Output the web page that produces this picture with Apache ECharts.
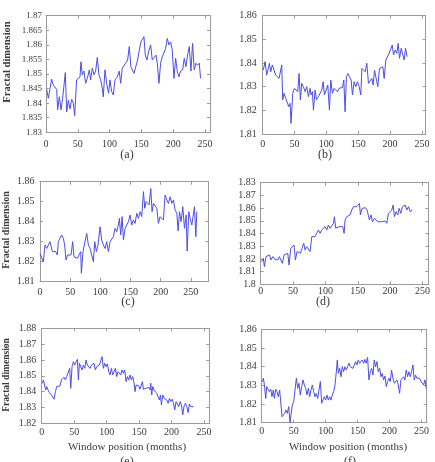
<!DOCTYPE html>
<html>
<head>
    <meta charset="utf-8">
    <title>Fractal dimension</title>
    <script src="https://cdn.jsdelivr.net/npm/echarts@6/dist/echarts.min.js"></script>
    <style>
        body { margin: 0; background: #fff; }
    </style>
</head>
<body>
    <div id="main" style="width: 435px;height:462px;"></div>
    <script type="text/javascript">
        // window position (months) and fractal dimension
        var aX = [1,3.7,6.3,8.9,11.5,14.2,16.8,18.3,21,23.6,26.2,28.3,30.4,32.5,35.1,37.7,40.4,43,45.1,48.2,50.8,53.5,55,57.1,59.7,62.4,65,68.1,70.2,72.9,75.5,78.1,80.7,83.3,86,88.6,90.1,92.8,95.4,98.5,100.6,103.3,105.9,108.5,112.2,115.3,117.4,120,122.6,125.3,128.4,131,133.6,136.3,138.4,141.5,144.1,146.8,149.4,152,154.1,156.2,158.8,162,164.6,167.2,169.8,173,175.1,177.7,180.3,182.9,185.5,188.2,190.8,193.4,196,198.6,201.3,203.9,206.5,209.1,211.7,214.9,217.5,220.1,222.7,225.4,228,230.6,233.2,235.8,238.5,241.1,243.2];
        var aY = [1.8447,1.8417,1.845,1.8482,1.8462,1.8459,1.8447,1.8377,1.8422,1.8377,1.8417,1.8422,1.8505,1.837,1.841,1.838,1.8413,1.84,1.8357,1.848,1.8485,1.849,1.8542,1.8497,1.851,1.8468,1.8485,1.8514,1.848,1.852,1.8497,1.851,1.8557,1.8497,1.848,1.8451,1.8422,1.8514,1.8468,1.8434,1.848,1.844,1.8428,1.848,1.849,1.851,1.8468,1.852,1.8514,1.8537,1.8548,1.8594,1.8525,1.8525,1.8502,1.8497,1.8548,1.8582,1.861,1.8605,1.8628,1.8565,1.8548,1.8582,1.86,1.8548,1.8542,1.8565,1.8537,1.8468,1.8537,1.8559,1.8554,1.8588,1.8622,1.86,1.861,1.8582,1.8485,1.8554,1.851,1.849,1.851,1.8514,1.8554,1.8525,1.8565,1.8594,1.851,1.8605,1.8514,1.8537,1.853,1.8537,1.8485];

        var bX = [1,3.7,6.3,8.9,10.5,12.6,15.2,17.8,20.4,23.1,25.7,28.3,29.9,31.4,33.5,36.2,38.8,40.9,43,44.5,47.2,49.8,52.4,55,57.1,59.2,61.3,63.9,66.6,69.2,71.8,74.4,76,78.1,79.7,82.3,84.4,87.5,90.1,92.8,94.9,97,99.6,102.2,104.8,106.9,109.5,112.2,114.8,117.4,120,122.6,125.3,127.4,129.4,131.5,133.6,136.3,138.9,141,143.6,146.2,148.8,151.5,154.1,155.7,158.3,160.9,163.5,166.1,168.8,171.4,173.5,175.6,178.2,180.8,183.4,186.1,188.7,190.8,193.4,196,198.6,201.3,203.4,205.5,208.1,210.7,212.8,214.9,217.5,220.1,222.2,224.3,226.9];
        var bY = [1.837,1.8406,1.8349,1.8377,1.8399,1.8363,1.8392,1.8399,1.8349,1.8349,1.8335,1.8342,1.8392,1.8244,1.8272,1.8251,1.8258,1.8215,1.823,1.8145,1.8272,1.8293,1.8297,1.8279,1.8356,1.8244,1.8314,1.83,1.8279,1.83,1.8258,1.8293,1.8265,1.8279,1.8201,1.8286,1.8244,1.8258,1.8265,1.8286,1.8321,1.8265,1.8286,1.8307,1.8201,1.8328,1.8272,1.8293,1.8286,1.8279,1.8293,1.8286,1.8297,1.8328,1.8194,1.8342,1.8356,1.8349,1.8328,1.8265,1.8321,1.83,1.8321,1.83,1.8265,1.8377,1.8384,1.8363,1.8399,1.8314,1.8321,1.8335,1.8307,1.837,1.8363,1.83,1.8377,1.8377,1.8384,1.8335,1.8413,1.842,1.8441,1.8441,1.8476,1.8434,1.8455,1.8441,1.8483,1.842,1.8462,1.8455,1.8413,1.8462,1.8427];

        var cX = [0,2.8,5.5,8.3,11.1,13.8,16.6,18.3,20.5,23.2,26,28.8,30.4,33.2,35.9,38.7,40.9,43.1,45.9,48.7,51.4,54.2,56.4,59.2,61.9,64.7,67.5,68.6,71.3,74.1,77.4,80.2,83,85.2,88.5,90.7,93.5,96.2,99.6,102.3,105.1,107.9,110.6,113.4,116.2,118.9,121.7,124.4,127.2,130,131.6,133.8,136.1,138.3,141,143.8,146.6,149.3,152.1,154.9,157.6,160.4,163.2,165.9,168.7,171.5,173.7,175.9,178.7,180.9,183.6,185.8,188.1,190.8,193.6,196.3,199.1,202.4,204.6,207.4,210.2,212.9,215.7,218.5,221.2,224,226.8,229,231.2,234,236.7,239.5,242.3,243.9,246.7,248.9,251.7,254.4,256.1,258.3,260];
        var cY = [1.8239,1.8231,1.8197,1.8281,1.8264,1.8281,1.8298,1.8306,1.8248,1.8239,1.8248,1.8231,1.8298,1.8306,1.8332,1.8315,1.8281,1.8206,1.8231,1.8222,1.8231,1.8298,1.8222,1.8222,1.8214,1.8214,1.8248,1.8139,1.8248,1.8256,1.834,1.8281,1.8264,1.8256,1.8197,1.8298,1.8248,1.8281,1.8373,1.8306,1.8281,1.8264,1.8298,1.8248,1.8298,1.8306,1.8323,1.8365,1.8348,1.8382,1.8415,1.8332,1.8424,1.8306,1.8365,1.8373,1.8399,1.8432,1.8382,1.8407,1.839,1.8441,1.8415,1.8449,1.8424,1.855,1.8466,1.85,1.8508,1.8483,1.8566,1.8449,1.8491,1.85,1.8466,1.839,1.8424,1.8432,1.8407,1.8533,1.8508,1.8491,1.8524,1.8491,1.8508,1.8457,1.8441,1.8352,1.8449,1.8399,1.8474,1.8365,1.8432,1.8251,1.8449,1.8415,1.8382,1.8382,1.8474,1.8323,1.8449];

        var dX = [1.5,4.1,5.7,8.2,10.8,13.4,16,18.6,21.1,23.7,26.3,28.9,31.4,33.5,36.1,38.7,41.8,43.8,46.4,49,51.5,53.6,56.2,58.8,61.3,63.9,66.5,68.6,71.1,73.7,76.3,78.9,81.4,84,86.6,89.2,91.8,94.3,96.9,99.5,102.1,104.6,107.2,109.8,112.4,113.9,116,118.6,121.1,123.7,126.8,128.9,130.4,133,135.6,138.1,140.7,143.3,145.9,148.5,151,152.6,154.1,156.7,159.3,161.9,164.4,166.5,168,170.6,172.7,175.8,178.4,180.9,183.5,187.1,189.7,192.3,194.8,197.4,200,202.6,204.6,206.7,209.3,211.9,213.9,216.5,219.1,221.1,223.2,225.8,228.4,230.9,234.5];
        var dY = [1.8178,1.8205,1.8139,1.8218,1.8231,1.8231,1.8191,1.8218,1.82,1.8205,1.8191,1.8218,1.8205,1.8165,1.8231,1.8218,1.8244,1.8152,1.8283,1.8296,1.831,1.8191,1.8257,1.827,1.8244,1.8283,1.8323,1.827,1.8296,1.831,1.8257,1.8375,1.8362,1.8375,1.8388,1.8428,1.8401,1.8428,1.8414,1.8454,1.8428,1.8467,1.8441,1.8454,1.848,1.8532,1.8441,1.8441,1.8454,1.8441,1.8454,1.8401,1.8506,1.8532,1.8532,1.8546,1.8585,1.8611,1.8598,1.8611,1.8624,1.8637,1.8546,1.8598,1.8598,1.8603,1.8585,1.8572,1.8506,1.8546,1.8493,1.8519,1.8532,1.8493,1.848,1.8493,1.8506,1.8498,1.848,1.8559,1.8572,1.8585,1.8624,1.8532,1.8572,1.8546,1.8598,1.8559,1.8611,1.8598,1.8624,1.8585,1.8611,1.8572,1.8585];

        var eX = [1,2.6,4.6,6.2,7.7,9.8,11.8,13.9,15.9,18,19,21.1,23.1,25.7,28.2,30.3,32.3,34.4,36.4,38.5,41.1,43.1,44.7,46.7,48.8,50.8,52.9,54.9,56.5,58,60.1,62.1,64.2,66.2,68.3,70.3,72.4,74.4,76.5,78.5,80.6,82.6,84.7,86.8,88.8,90.9,92.9,95,97,99.1,101.1,103.2,105.2,107.3,109.3,111.4,113.4,115.5,117.6,119.6,121.7,123.7,125.8,127.8,129.9,131.9,134,136,138.1,140.1,142.2,143.7,145.3,147.3,149.4,151.4,153.5,155,156.6,158.6,160.7,162.7,164.8,166.8,167.9,169.4,170.9,173,175.1,177.1,179.2,181.2,182.8,184.3,186.3,188.4,190.5,192.5,194.6,196.6,198.7,200.7,202.8,204.8,206.9,208.9,211,213,215.1,217.1,219.2,221.3,223.3,225.4,227.4,229.5,231.5,233.6];
        var eY = [1.8453,1.8474,1.8463,1.841,1.8432,1.841,1.8394,1.8385,1.8373,1.8368,1.8352,1.84,1.8432,1.8421,1.8436,1.8474,1.8463,1.8491,1.8474,1.8495,1.8505,1.8547,1.8421,1.8558,1.8589,1.8568,1.8579,1.8604,1.8474,1.8579,1.8568,1.8537,1.8568,1.8547,1.86,1.8568,1.8579,1.8547,1.8568,1.8562,1.8579,1.8537,1.8558,1.8547,1.8568,1.8579,1.8621,1.8547,1.8579,1.8558,1.8575,1.8526,1.8505,1.8547,1.8505,1.8526,1.8547,1.8495,1.8526,1.8537,1.8505,1.8537,1.8516,1.8537,1.8463,1.8495,1.8474,1.8505,1.8474,1.8495,1.8453,1.84,1.8442,1.8432,1.8436,1.8415,1.8442,1.8463,1.8415,1.8427,1.8421,1.8432,1.8427,1.841,1.8453,1.8379,1.8432,1.841,1.8421,1.8389,1.8379,1.8347,1.8379,1.8316,1.8379,1.8358,1.8368,1.8347,1.8326,1.8358,1.8337,1.8352,1.8331,1.8284,1.8337,1.8326,1.8305,1.8337,1.8316,1.8253,1.831,1.8326,1.8305,1.8267,1.8322,1.8305,1.8316,1.8305];

        var fX = [1,2.6,4.2,6.3,7.8,9.9,12,14.1,16.1,18.2,19.8,21.9,24,26,28.1,30.2,31.8,33.9,35.9,38,40.1,42.2,44.3,45.8,47.9,50,52.1,54.2,56.3,58.3,60.4,62.5,64.6,66.7,68.8,70.8,72.9,75,77.1,79.2,81.3,83.3,85.4,87.5,89.6,91.7,93.8,95.8,97.9,100,102.1,104.2,106.3,108.3,110.4,112.5,114.6,116.7,118.2,119.8,121.9,124,126,128.1,130.2,132.3,134.4,136.5,138.5,140.6,142.7,144.8,146.9,149,151,153.1,155.2,157.3,159.4,161.5,163.5,165.6,167.7,169.8,171.9,174,176,178.1,180.2,182.3,184.4,186.5,188.5,190.6,192.7,194.8,196.9,199,201,203.1,205.2,207.3,209.4,211.5,213.5,215.6,217.7,219.8,221.9,224,226,228.1,230.2,232.3,234.4,236.5,238.5,240.6,242.7,244.8,246.9,249,251,253.1,255.2,257.3];
        var fY = [1.832,1.8338,1.8302,1.823,1.8293,1.8284,1.8266,1.8279,1.8239,1.8275,1.823,1.8279,1.8266,1.8239,1.8275,1.8284,1.8132,1.8141,1.815,1.8168,1.815,1.8186,1.81,1.81,1.8195,1.8213,1.8275,1.8338,1.8284,1.8311,1.8248,1.8293,1.8329,1.8302,1.8284,1.8248,1.8284,1.8239,1.8275,1.8302,1.8266,1.8239,1.8257,1.823,1.8275,1.832,1.8204,1.8221,1.8239,1.8221,1.8248,1.8221,1.8239,1.8221,1.8248,1.8266,1.8302,1.8373,1.8436,1.8364,1.8391,1.8346,1.84,1.8373,1.84,1.8382,1.8391,1.8418,1.84,1.8409,1.8391,1.8409,1.8427,1.8409,1.8436,1.8418,1.8427,1.8436,1.8418,1.8439,1.8418,1.845,1.8329,1.8373,1.8391,1.8355,1.8436,1.84,1.8427,1.8373,1.8391,1.8346,1.8364,1.8329,1.835,1.8293,1.832,1.8338,1.832,1.8382,1.8338,1.8311,1.832,1.8329,1.8302,1.8257,1.8329,1.832,1.8346,1.8329,1.8382,1.8346,1.8373,1.8346,1.8373,1.8409,1.8329,1.8355,1.8338,1.8329,1.8338,1.832,1.8329,1.8302,1.8329,1.8284];

        var captions = ['(a)', '(b)', '(c)', '(d)', '(e)', '(f)'];
        var yName = 'Fractal dimension';
        var xName = 'Window position (months)';

        // placement of each small plot on the page
        var panels = [
            {x: aX, y: aY, left: 46, top: 15.7, width: 164, height: 116.6, xMax: 258, yMin: 1.83, yMax: 1.87, yStep: 0.005, xMargin: 7, yMargin: 4, yFont: 9},
            {x: bX, y: bY, left: 262.7, top: 15.7, width: 163, height: 118.3, xMax: 256, yMin: 1.81, yMax: 1.86, yStep: 0.01, xMargin: 5, yMargin: 6},
            {x: cX, y: cY, left: 40, top: 181.7, width: 168.3, height: 99.3, xMax: 279, yMin: 1.81, yMax: 1.86, yStep: 0.01, xMargin: 6, yMargin: 5.5},
            {x: dX, y: dY, left: 260.7, top: 182.7, width: 167.6, height: 101.6, xMax: 259, yMin: 1.8, yMax: 1.88, yStep: 0.01, xMargin: 2, yMargin: 5},
            {x: eX, y: eY, left: 41.7, top: 328.3, width: 167.6, height: 95, xMax: 258, yMin: 1.82, yMax: 1.88, yStep: 0.01, xMargin: 4, yMargin: 5.5},
            {x: fX, y: fY, left: 261.7, top: 329.3, width: 165, height: 93.4, xMax: 258, yMin: 1.81, yMax: 1.86, yStep: 0.01, xMargin: 3.5, yMargin: 5}
        ];

        var serif = 'Liberation Serif';
        var boxColor = '#9a9a9a';
        var textColor = '#3a3a3a';

        var grids = [], xAxes = [], yAxes = [], series = [];

        panels.forEach(function (p, i) {
            grids.push({left: p.left, top: p.top, width: p.width, height: p.height});

            var pairs = p.x.map(function (v, k) { return [v, p.y[k]]; });
            var tick = {show: true, inside: true, length: 3, lineStyle: {color: boxColor}};
            var line = {show: true, onZero: false, lineStyle: {color: boxColor, width: 1}};

            // bottom + top x axes (top one only draws the box edge and ticks)
            xAxes.push({
                gridIndex: i, type: 'value', min: 0, max: p.xMax, interval: 50,
                axisLine: line, axisTick: tick, splitLine: {show: false},
                axisLabel: {
                    margin: p.xMargin, fontFamily: serif, fontSize: 10, color: textColor,
                    formatter: function (v) { return v % 50 === 0 ? String(v) : ''; }
                }
            });
            xAxes.push({
                gridIndex: i, type: 'value', position: 'top', min: 0, max: p.xMax, interval: 50,
                axisLine: line, axisTick: tick, splitLine: {show: false}, axisLabel: {show: false}
            });

            yAxes.push({
                gridIndex: i, type: 'value', min: p.yMin, max: p.yMax, interval: p.yStep,
                axisLine: line, axisTick: tick, splitLine: {show: false},
                axisLabel: {
                    margin: p.yMargin, fontFamily: serif, fontSize: p.yFont || 10, color: textColor,
                    formatter: function (v) {
                        // panel (d) carries the label 1.83 at its top tick in the original
                        if (i === 3 && Math.abs(v - 1.88) < 1e-6) return '1.83';
                        return String(+v.toFixed(3));
                    }
                }
            });
            yAxes.push({
                gridIndex: i, type: 'value', position: 'right', min: p.yMin, max: p.yMax, interval: p.yStep,
                axisLine: line, axisTick: tick, splitLine: {show: false}, axisLabel: {show: false}
            });

            series.push({
                type: 'line', xAxisIndex: 2 * i, yAxisIndex: 2 * i,
                data: pairs, showSymbol: false, symbol: 'none', clip: true,
                lineStyle: {color: '#4d4de6', width: 1}, animation: false
            });
        });

        function label(text, x, y, size, weight, rot) {
            return {
                type: 'text', x: x, y: y, rotation: rot || 0,
                style: {
                    text: text, font: weight + ' ' + size + 'px "' + serif + '"', fill: textColor,
                    align: 'center', verticalAlign: 'middle',
                    textAlign: 'center', textVerticalAlign: 'middle'
                }
            };
        }

        var texts = [
            label(captions[0], 127, 155, 12, 'normal'),
            label(captions[1], 325, 155, 12, 'normal'),
            label(captions[2], 128, 302, 12, 'normal'),
            label(captions[3], 323, 302, 12, 'normal'),
            label(captions[4], 127, 462, 12, 'normal'),
            label(captions[5], 350, 462, 12, 'normal'),
            label(yName, 7, 62, 10.5, 'bold', Math.PI / 2),
            label(yName, 6, 230, 10, 'bold', Math.PI / 2),
            label(yName, 6.7, 375, 9.5, 'bold', Math.PI / 2),
            label(xName, 127, 447, 11, 'normal'),
            label(xName, 348, 447, 11, 'normal')
        ];

        var myChart = echarts.init(document.getElementById('main'));
        myChart.setOption({
            animation: false,
            backgroundColor: '#fff',
            grid: grids,
            xAxis: xAxes,
            yAxis: yAxes,
            series: series,
            graphic: texts
        });
    </script>
</body>
</html>
